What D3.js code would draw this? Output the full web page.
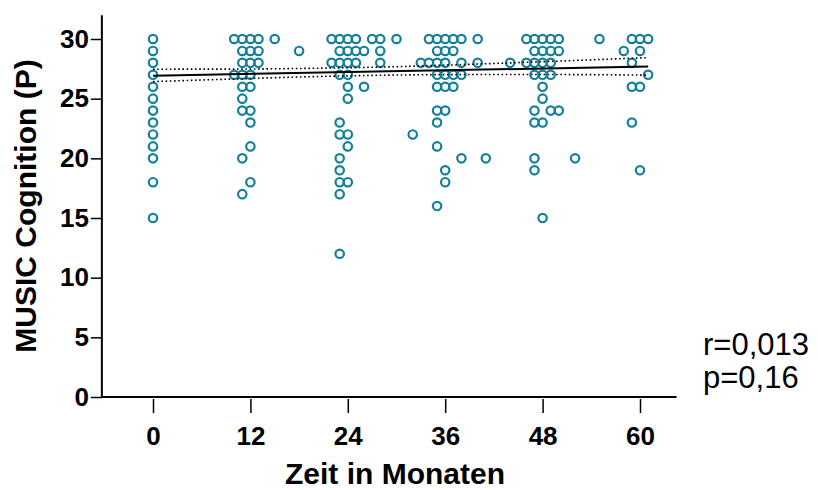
<!DOCTYPE html>
<html>
<head>
<meta charset="utf-8">
<script src="https://cdn.jsdelivr.net/npm/d3@7"></script>
<style>
  body { margin: 0; background: #fff; }
  text { font-family: Arial, "Liberation Sans", sans-serif; }
</style>
</head>
<body>
<svg id="chart" width="818" height="490"></svg>
<script>
// points, one array per column of months (x) and scores (y)
const months = [
  0,0,0,0,0,0,0,0,0,0,0,0,0,
  10,10,
  11,11,11,11,11,11,11,11,11,
  12,12,12,12,12,12,12,12,12,
  13,13,13,
  15, 18,
  22,22,
  23,23,23,23,23,23,23,23,23,23,23,
  24,24,24,24,24,24,24,24,24,
  25,25,25,
  26,26, 27,
  28,28,28,
  30, 32, 33,
  34,34,
  35,35,35,35,35,35,35,35,35,
  36,36,36,36,36,36,36,36,
  37,37,37,37,
  38,38,38,38,
  40,40, 41, 44,
  46,46,
  47,47,47,47,47,47,47,47,
  48,48,48,48,48,48,48,48,
  49,49,49,49,49,
  50,50,50,
  52, 55, 58,
  59,59,59,59,
  60,60,60,60,
  61,61
];
const scores = [
  30,29,28,27,26,25,24,23,22,21,20,18,15,
  30,27,
  30,29,28,27,26,25,24,20,17,
  30,29,28,27,26,24,23,21,18,
  30,29,28,
  30, 29,
  30,28,
  30,29,28,27,23,22,20,19,18,17,12,
  30,29,28,27,26,25,22,21,18,
  30,29,28,
  29,26, 30,
  30,29,28,
  30, 22, 28,
  30,28,
  30,29,28,27,26,24,23,21,16,
  30,29,28,27,26,24,19,18,
  30,29,27,26,
  30,28,27,20,
  30,28, 20, 28,
  30,28,
  30,29,28,27,24,23,20,19,
  30,29,28,27,26,25,23,15,
  30,29,28,27,24,
  30,29,24,
  20, 30, 29,
  30,28,26,23,
  30,29,26,19,
  30,27
];

// fit line and its confidence band
const fitMonths = [0, 61];
const fitScores = [26.93, 27.69];
const bandMonths = [0, 10, 20, 30, 40, 50, 61];
const bandUpper = [27.47, 27.48, 27.55, 27.68, 27.9, 28.15, 28.44];
const bandLower = [26.43, 26.65, 26.85, 26.98, 27.02, 27.02, 26.97];

const xTicks = [0, 12, 24, 36, 48, 60];
const yTicks = [0, 5, 10, 15, 20, 25, 30];
const stats = ["r=0,013", "p=0,16"];

const TEAL = "#13809a";

const svg = d3.select("#chart");
const x = d3.scaleLinear().domain([0, 60]).range([153, 640]);
const y = d3.scaleLinear().domain([0, 30]).range([397, 39]);

// axis lines
svg.append("line")
  .attr("x1", x(-6.3)).attr("x2", x(-6.3))
  .attr("y1", y(0)).attr("y2", y(32))
  .attr("stroke", "black").attr("stroke-width", 2);
svg.append("line")
  .attr("x1", x(-6.3)).attr("x2", x(64.5))
  .attr("y1", y(0)).attr("y2", y(0))
  .attr("stroke", "black").attr("stroke-width", 2);

// y axis ticks
const yAxis = svg.append("g")
  .attr("transform", `translate(${x(-6.3)},0)`)
  .call(d3.axisLeft(y).tickValues(yTicks).tickSize(11).tickPadding(2));
yAxis.select(".domain").remove();
yAxis.selectAll(".tick line").attr("stroke-width", 1.5);
yAxis.selectAll("text")
  .attr("font-size", 26).attr("font-weight", "bold")
  .attr("font-family", "Arial, 'Liberation Sans', sans-serif").attr("fill", "black");

// x axis ticks (detached from the line)
const xAxis = svg.append("g")
  .attr("transform", `translate(0,${y(0) + 2})`)
  .call(d3.axisBottom(x).tickValues(xTicks).tickSize(14).tickPadding(14));
xAxis.select(".domain").remove();
xAxis.selectAll(".tick line").attr("stroke-width", 1.5);
xAxis.selectAll("text")
  .attr("font-size", 26).attr("font-weight", "bold")
  .attr("font-family", "Arial, 'Liberation Sans', sans-serif").attr("fill", "black");

// axis titles
svg.append("text")
  .attr("x", 395).attr("y", 484)
  .attr("text-anchor", "middle")
  .attr("font-size", 30).attr("font-weight", "bold")
  .text("Zeit in Monaten");
svg.append("text")
  .attr("transform", "translate(36,206) rotate(-90)")
  .attr("text-anchor", "middle")
  .attr("font-size", 30).attr("font-weight", "bold")
  .text("MUSIC Cognition (P)");

// points
const pts = months.map((m, i) => ({ m: m, s: scores[i] }));
svg.append("g").selectAll("circle")
  .data(pts)
  .join("circle")
  .attr("cx", d => x(d.m))
  .attr("cy", d => y(d.s))
  .attr("r", 4.2)
  .attr("fill", "none")
  .attr("stroke", TEAL)
  .attr("stroke-width", 2.2);

// confidence band (dotted)
const band = d3.line().curve(d3.curveMonotoneX);
[bandUpper, bandLower].forEach(arr => {
  svg.append("path")
    .attr("d", band(bandMonths.map((m, i) => [x(m), y(arr[i])])))
    .attr("fill", "none")
    .attr("stroke", "black")
    .attr("stroke-width", 1.6)
    .attr("stroke-dasharray", "1.6,2.6");
});

// fit line
svg.append("line")
  .attr("x1", x(fitMonths[0])).attr("y1", y(fitScores[0]))
  .attr("x2", x(fitMonths[1])).attr("y2", y(fitScores[1]))
  .attr("stroke", "black").attr("stroke-width", 2);

// stats text
svg.append("g").selectAll("text")
  .data(stats)
  .join("text")
  .attr("x", 703)
  .attr("y", (d, i) => 355 + i * 33)
  .attr("font-size", 31)
  .text(d => d);
</script>
</body>
</html>
